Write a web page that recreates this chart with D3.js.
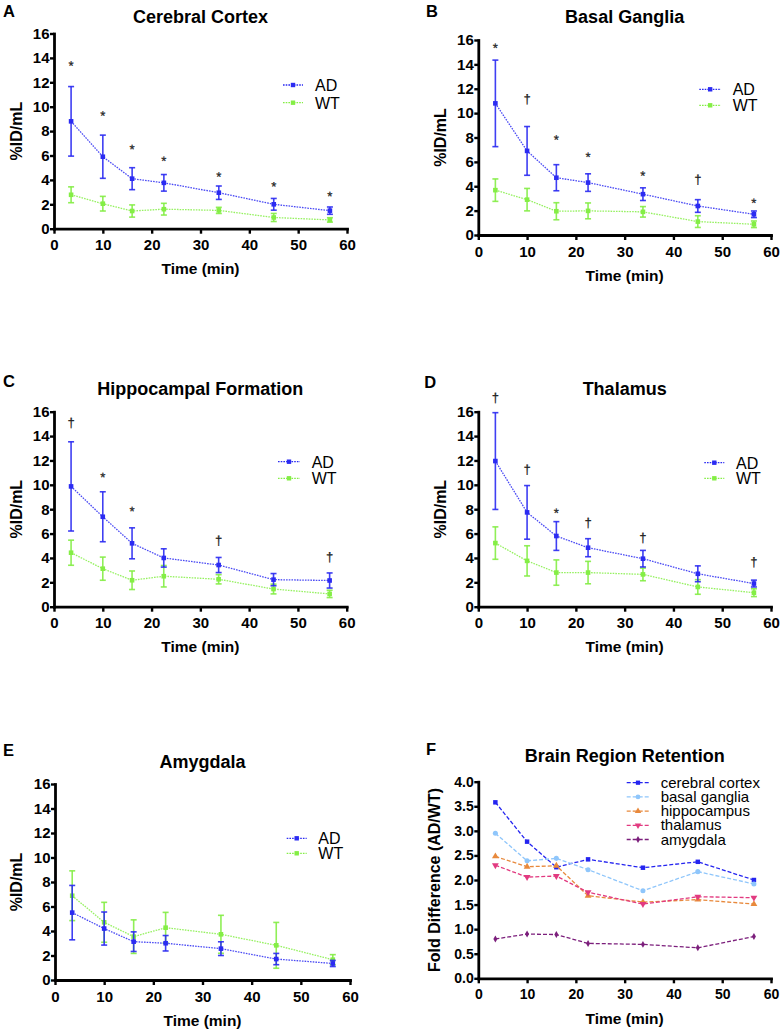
<!DOCTYPE html>
<html><head><meta charset="utf-8">
<script src="https://cdn.jsdelivr.net/npm/d3@7"></script>
<style>
body{margin:0;background:#fff}
svg{display:block}
text{font-family:Arial,"Liberation Sans",sans-serif}
.sig{-webkit-font-smoothing:antialiased}
</style>
</head><body>
<svg id="c" width="782" height="1030"></svg>
<script>
// ---------------- DATA ----------------
const times = [3.5, 10, 16, 22.5, 33.75, 45, 56.5];
const xTicks = [0, 10, 20, 30, 40, 50, 60];
const yTicksID = [0, 2, 4, 6, 8, 10, 12, 14, 16];
const yTicksFold = [0, 0.5, 1, 1.5, 2, 2.5, 3, 3.5, 4];
const groupNames = ["AD", "WT"];

const cortexAD    = [8.8, 5.9, 4.1, 3.76, 2.95, 2.0, 1.48];
const cortexADerr = [2.85, 1.77, 0.9, 0.68, 0.55, 0.48, 0.3];
const cortexWT    = [2.78, 2.05, 1.45, 1.6, 1.5, 0.92, 0.72];
const cortexWTerr = [0.65, 0.6, 0.5, 0.48, 0.25, 0.33, 0.18];
const cortexSig   = ["*", "*", "*", "*", "*", "*", "*"];
const cortexSigY  = [13.6, 9.5, 6.75, 5.8, 4.5, 3.7, 2.9];

const basalAD    = [10.8, 6.9, 4.7, 4.3, 3.35, 2.38, 1.7];
const basalADerr = [3.55, 2.0, 1.07, 0.72, 0.52, 0.52, 0.27];
const basalWT    = [3.68, 2.9, 1.95, 1.98, 1.9, 1.1, 0.88];
const basalWTerr = [0.92, 0.92, 0.7, 0.65, 0.43, 0.48, 0.27];
const basalSig   = ["*", "†", "*", "*", "*", "†", "*"];
const basalSigY  = [15.6, 11.1, 8.07, 6.65, 5.1, 4.5, 2.87];

const hippoAD    = [9.87, 7.38, 5.2, 4.0, 3.42, 2.22, 2.15];
const hippoADerr = [3.66, 2.05, 1.27, 0.75, 0.62, 0.5, 0.62];
const hippoWT    = [4.43, 3.12, 2.17, 2.5, 2.25, 1.45, 1.05];
const hippoWTerr = [1.03, 0.95, 0.76, 0.88, 0.38, 0.4, 0.3];
const hippoSig   = ["†", "*", "*", "", "†", "", "†"];
const hippoSigY  = [15.05, 10.86, 8.07, null, 5.39, null, 4.02];

const thalAD    = [11.95, 7.74, 5.8, 4.84, 3.94, 2.7, 1.9];
const thalADerr = [3.97, 2.2, 1.18, 0.74, 0.68, 0.65, 0.28];
const thalWT    = [5.22, 3.76, 2.8, 2.8, 2.65, 1.62, 1.15];
const thalWTerr = [1.33, 1.24, 1.04, 0.92, 0.52, 0.6, 0.32];
const thalSig   = ["†", "†", "*", "†", "†", "", "†"];
const thalSigY  = [17.1, 11.2, 7.93, 6.84, 5.6, null, 3.61];

const amygAD    = [5.5, 4.2, 3.13, 3.0, 2.56, 1.71, 1.35];
const amygADerr = [2.22, 1.35, 0.8, 0.63, 0.56, 0.46, 0.25];
const amygWT    = [6.88, 4.71, 3.54, 4.27, 3.73, 2.83, 1.66];
const amygWTerr = [2.03, 1.63, 1.37, 1.25, 1.55, 1.87, 0.41];
const amygSig   = ["", "", "", "", "", "", ""];
const amygSigY  = [null, null, null, null, null, null, null];

const foldNames  = ["cerebral cortex", "basal ganglia", "hippocampus", "thalamus", "amygdala"];
const foldCortex = [3.58, 2.78, 2.26, 2.42, 2.25, 2.37, 2.0];
const foldBasal  = [2.95, 2.39, 2.44, 2.21, 1.78, 2.17, 1.92];
const foldHippo  = [2.48, 2.27, 2.29, 1.68, 1.55, 1.6, 1.51];
const foldThal   = [2.3, 2.06, 2.08, 1.75, 1.51, 1.66, 1.64];
const foldAmyg   = [0.80, 0.90, 0.89, 0.71, 0.69, 0.62, 0.85];

// ---------------- STYLE / LAYOUT ----------------
const AD_COLOR = "#2b2bf2";
const WT_COLOR = "#84ee45";
const FOLD_COLORS = ["#2424f0", "#8fc6fb", "#e8893c", "#e23a80", "#7c1f7c"];
const FOLD_SHAPES = [d3.symbolSquare, d3.symbolCircle, d3.symbolTriangle, "triDown", d3.symbolDiamond];

const svg = d3.select("#c");

const panels = [
  {letter:"A", title:"Cerebral Cortex", ad:cortexAD, adErr:cortexADerr, wt:cortexWT, wtErr:cortexWTerr, sig:cortexSig, sigY:cortexSigY,
   box:{x0:54, x1:347, y0:33.5, y1:228.7}, titleY:16.7, letterXY:[3,16.7], ylabX:21.7, leg:{x1:283, x2:303, tx:315, ys:[85,102.7]}},
  {letter:"B", title:"Basal Ganglia", ad:basalAD, adErr:basalADerr, wt:basalWT, wtErr:basalWTerr, sig:basalSig, sigY:basalSigY,
   box:{x0:478.3, x1:771, y0:40, y1:235}, titleY:16, letterXY:[426,16.7], ylabX:446, leg:{x1:699.3, x2:721, tx:732.7, ys:[89.3,105.3]}},
  {letter:"C", title:"Hippocampal Formation", ad:hippoAD, adErr:hippoADerr, wt:hippoWT, wtErr:hippoWTerr, sig:hippoSig, sigY:hippoSigY,
   box:{x0:54, x1:346.7, y0:411.7, y1:606.7}, titleY:388.3, letterXY:[3,386.7], ylabX:21.7, leg:{x1:278, x2:300, tx:311.7, ys:[461.7,478.3]}},
  {letter:"D", title:"Thalamus", ad:thalAD, adErr:thalADerr, wt:thalWT, wtErr:thalWTerr, sig:thalSig, sigY:thalSigY,
   box:{x0:478.3, x1:771, y0:411.7, y1:606.7}, titleY:388.3, letterXY:[424.3,388.3], ylabX:446, leg:{x1:704.3, x2:724.3, tx:736, ys:[462.7,478.3]}},
  {letter:"E", title:"Amygdala", ad:amygAD, adErr:amygADerr, wt:amygWT, wtErr:amygWTerr, sig:amygSig, sigY:amygSigY,
   box:{x0:55, x1:350, y0:784, y1:980}, titleY:761.7, letterXY:[3,756], ylabX:21.7, leg:{x1:286.7, x2:306.7, tx:318.3, ys:[838.3,853.3]}}
];

function drawFrame(p, y, yTicks, yFmt, tickFS, ylabel) {
  const b = p.box;
  const x = d3.scaleLinear().domain([0, 60]).range([b.x0, b.x1]);
  const g = svg.append("g");
  g.append("text").attr("x", (b.x0 + b.x1) / 2).attr("y", p.titleY + 6.5)
    .attr("text-anchor", "middle").attr("font-size", 18).attr("font-weight", "bold").text(p.title);
  g.append("text").attr("x", p.letterXY[0]).attr("y", p.letterXY[1])
    .attr("font-size", 16.5).attr("font-weight", "bold").text(p.letter);
  const ax = g.append("g").attr("transform", `translate(0,${b.y1})`)
    .call(d3.axisBottom(x).tickValues(xTicks).tickSize(5).tickSizeOuter(0).tickPadding(6));
  const ay = g.append("g").attr("transform", `translate(${b.x0},0)`)
    .call(d3.axisLeft(y).tickValues(yTicks).tickFormat(yFmt).tickSize(4).tickSizeOuter(0).tickPadding(0.5));
  [ax, ay].forEach(a => {
    a.select(".domain").attr("stroke", "#000").attr("stroke-width", 2.8).attr("stroke-linecap", "square");
    a.selectAll(".tick line").attr("stroke", "#000").attr("stroke-width", 2.4);
    a.selectAll(".tick text").attr("font-size", tickFS).attr("font-weight", "bold").attr("fill", "#000")
      .attr("font-family", 'Arial,"Liberation Sans",sans-serif');
  });
  g.append("text").attr("x", (b.x0 + b.x1) / 2).attr("y", b.y1 + 45.5)
    .attr("text-anchor", "middle").attr("font-size", 15.5).attr("font-weight", "bold").text("Time (min)");
  g.append("text").attr("transform", `translate(${p.ylabX},${(b.y0 + b.y1) / 2}) rotate(-90)`)
    .attr("text-anchor", "middle").attr("font-size", 16).attr("font-weight", "bold").text(ylabel);
  return {g, x};
}

function symbolPath(shape, size) {
  if (shape === "triDown") return d3.symbol(d3.symbolTriangle, size)();
  return d3.symbol(shape, size)();
}

// ---------- panels A–E ----------
panels.forEach(p => {
  const b = p.box;
  const y = d3.scaleLinear().domain([0, 16]).range([b.y1, b.y0]);
  const {g, x} = drawFrame(p, y, yTicksID, d3.format("d"), 15, "%ID/mL");
  const series = [
    {name: groupNames[1], vals: p.wt, err: p.wtErr, color: WT_COLOR},
    {name: groupNames[0], vals: p.ad, err: p.adErr, color: AD_COLOR}
  ];
  const line = d3.line().x((d, i) => x(times[i])).y(d => y(d));
  series.forEach(s => {
    g.append("path").attr("d", line(s.vals)).attr("fill", "none")
      .attr("stroke", s.color).attr("stroke-width", 1.3).attr("stroke-dasharray", "1.6,1.1").attr("opacity", 0.85);
    s.vals.forEach((v, i) => {
      const xx = x(times[i]), yt = y(v + s.err[i]), yb = y(v - s.err[i]);
      g.append("line").attr("x1", xx).attr("x2", xx).attr("y1", yt).attr("y2", yb)
        .attr("stroke", s.color).attr("stroke-width", 1.6).attr("opacity", 0.9);
      [yt, yb].forEach(yy => g.append("line").attr("x1", xx - 3).attr("x2", xx + 3).attr("y1", yy).attr("y2", yy)
        .attr("stroke", s.color).attr("stroke-width", 1.6).attr("opacity", 0.9));
    });
    g.selectAll(null).data(s.vals).join("rect")
      .attr("x", (d, i) => x(times[i]) - 2.3).attr("y", d => y(d) - 2.3)
      .attr("width", 4.6).attr("height", 4.6).attr("fill", s.color);
  });
  // significance marks (slight rotation => grayscale antialiasing)
  p.sig.forEach((s, i) => {
    if (!s) return;
    const fs = 13;
    const cx = x(times[i]);
    const cy = y(p.sigY[i]);
    const base = s === "*" ? cy + 0.58 * fs : cy + 0.3 * fs;
    g.append("text").attr("class", "sig").attr("x", cx).attr("y", base).attr("text-anchor", "middle")
      .attr("transform", `rotate(0.3,${cx},${cy})`)
      .attr("font-family", '"Liberation Sans",Arial,sans-serif')
      .attr("font-size", fs).attr("fill", "#222").attr("stroke", "#222").attr("stroke-width", 0.25).text(s);
  });
  // legend (AD first)
  const L = p.leg;
  [series[1], series[0]].forEach((s, k) => {
    const yy = L.ys[k];
    g.append("line").attr("x1", L.x1).attr("x2", L.x2).attr("y1", yy).attr("y2", yy)
      .attr("stroke", s.color).attr("stroke-width", 1.3).attr("stroke-dasharray", "1.6,1.1");
    g.append("rect").attr("x", (L.x1 + L.x2) / 2 - 2.2).attr("y", yy - 2.2).attr("width", 4.4).attr("height", 4.4).attr("fill", s.color);
    g.append("text").attr("x", L.tx).attr("y", yy + 5.8).attr("font-size", 16).attr("fill", "#000").text(s.name);
  });
});

// ---------- panel F ----------
(function () {
  const p = {letter:"F", title:"Brain Region Retention", box:{x0:478.3, x1:771, y0:781.7, y1:978.3},
             titleY:755, letterXY:[426,755], ylabX:439.5};
  const b = p.box;
  const y = d3.scaleLinear().domain([0, 4]).range([b.y1, b.y0]);
  const {g, x} = drawFrame(p, y, yTicksFold, d3.format(".1f"), 14, "Fold Difference (AD/WT)");
  const folds = [foldCortex, foldBasal, foldHippo, foldThal, foldAmyg];
  const line = d3.line().x((d, i) => x(times[i])).y(d => y(d));
  folds.forEach((vals, k) => {
    const col = FOLD_COLORS[k];
    g.append("path").attr("d", line(vals)).attr("fill", "none").attr("stroke", col)
      .attr("stroke-width", 1.3).attr("stroke-dasharray", "4,2");
    const rot = FOLD_SHAPES[k] === "triDown" ? 180 : 0;
    g.selectAll(null).data(vals).join("path")
      .attr("d", symbolPath(FOLD_SHAPES[k], k === 4 ? 14 : 20))
      .attr("transform", (d, i) => `translate(${x(times[i])},${y(d)}) rotate(${rot})`)
      .attr("fill", col);
  });
  // legend
  const lx1 = 626.7, lx2 = 649.3, tx = 660.7, ys = [782.7, 796.9, 811.1, 825.3, 839.5];
  foldNames.forEach((n, k) => {
    const col = FOLD_COLORS[k];
    g.append("line").attr("x1", lx1).attr("x2", lx2).attr("y1", ys[k]).attr("y2", ys[k])
      .attr("stroke", col).attr("stroke-width", 1.3).attr("stroke-dasharray", "4,2");
    const rot = FOLD_SHAPES[k] === "triDown" ? 180 : 0;
    g.append("path").attr("d", symbolPath(FOLD_SHAPES[k], k === 4 ? 14 : 18))
      .attr("transform", `translate(${(lx1 + lx2) / 2},${ys[k]}) rotate(${rot})`).attr("fill", col);
    g.append("text").attr("x", tx).attr("y", ys[k] + 5).attr("font-size", 15).attr("fill", "#000").text(n);
  });
})();
</script>
</body></html>
